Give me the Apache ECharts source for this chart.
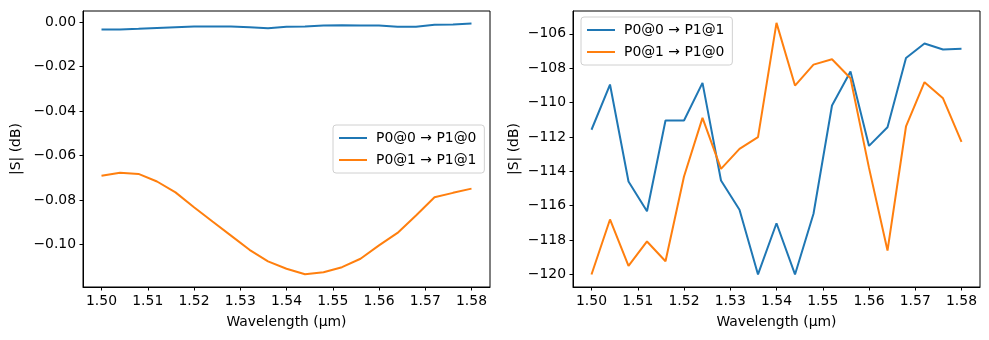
<!DOCTYPE html>
<html>
<head>
<meta charset="utf-8">
<script src="https://cdn.jsdelivr.net/npm/echarts@6/dist/echarts.min.js"></script>
<style>
html,body{margin:0;padding:0;background:#fff;}
#chart{width:989px;height:340px;}
</style>
</head>
<body>
<div id="chart"></div>
<script>
// Wavelengths (µm)
var wavelengths = [1.500,1.504,1.508,1.512,1.516,1.520,1.524,1.528,1.532,1.536,1.540,1.544,1.548,1.552,1.556,1.560,1.564,1.568,1.572,1.576,1.580];
var xTicks = [1.50,1.51,1.52,1.53,1.54,1.55,1.56,1.57,1.58];

// Left panel: transmission
var leftNames = ['P0@0 \u2192 P1@0', 'P0@1 \u2192 P1@1'];
var s00_10 = [-0.0034,-0.0034,-0.0031,-0.0027,-0.0024,-0.0021,-0.0021,-0.0021,-0.0024,-0.0028,-0.0022,-0.0021,-0.0016,-0.0015,-0.0016,-0.0016,-0.0022,-0.0022,-0.0013,-0.0012,-0.0007];
var s01_11 = [-0.0691,-0.0678,-0.0683,-0.0717,-0.0766,-0.0833,-0.0897,-0.0960,-0.1024,-0.1076,-0.1109,-0.1134,-0.1125,-0.1102,-0.1064,-0.1004,-0.0948,-0.0870,-0.0788,-0.0768,-0.0749];
var leftYTicks = [0.00,-0.02,-0.04,-0.06,-0.08,-0.10];

// Right panel: crosstalk
var rightNames = ['P0@0 \u2192 P1@1', 'P0@1 \u2192 P1@0'];
var s00_11 = [-111.58,-108.95,-114.59,-116.32,-111.04,-111.04,-108.85,-114.53,-116.24,-120.0,-117.02,-120.0,-116.47,-110.17,-108.19,-112.52,-111.43,-107.40,-106.56,-106.91,-106.87];
var s01_10 = [-120.0,-116.80,-119.50,-118.08,-119.23,-114.30,-110.89,-113.86,-112.69,-112.01,-105.36,-109.01,-107.79,-107.48,-108.58,-113.80,-118.61,-111.39,-108.81,-109.75,-112.28];
var rightYTicks = [-120,-118,-116,-114,-112,-110,-108,-106];

var xName = 'Wavelength (\u00b5m)';
var yName = '|S| (dB)';

function pairs(xs, ys){ return xs.map(function(x,i){ return [x, ys[i]]; }); }

var FONT = 'DejaVu Sans';
var FS = 13.9;

function xAxisCfg(gi){
  return {
    type:'value', gridIndex:gi, min:1.496, max:1.584,
    name:xName, nameLocation:'middle', nameGap:28,
    nameTextStyle:{fontFamily:FONT,fontSize:FS,color:'#000'},
    axisLine:{show:true,onZero:false,lineStyle:{color:'#000',width:1}},
    axisTick:{show:true,inside:false,length:3.5,lineStyle:{color:'#000'},customValues:xTicks},
    axisLabel:{show:true,margin:7,fontFamily:FONT,fontSize:FS,color:'#000',customValues:xTicks,
      formatter:function(v){return v.toFixed(2);}},
    splitLine:{show:false}
  };
}
function yAxisCfg(gi, min, max, ticks, dec, gap){
  return {
    type:'value', gridIndex:gi, min:min, max:max,
    name:yName, nameLocation:'middle', nameGap:gap,
    nameTextStyle:{fontFamily:FONT,fontSize:FS,color:'#000'},
    axisLine:{show:true,onZero:false,lineStyle:{color:'#000',width:1}},
    axisTick:{show:true,inside:false,length:3.5,lineStyle:{color:'#000'},customValues:ticks},
    axisLabel:{show:true,margin:7,fontFamily:FONT,fontSize:FS,color:'#000',customValues:ticks,
      formatter:function(v){ var s=Math.abs(v).toFixed(dec); return (v<-1e-9?'\u2212':'')+s; }},
    splitLine:{show:false}
  };
}
function lineSeries(name, xi, yi, data, color){
  return {
    type:'line', name:name, xAxisIndex:xi, yAxisIndex:yi,
    data:pairs(wavelengths, data), showSymbol:false, symbol:'none',
    lineStyle:{color:color,width:2}, itemStyle:{color:color},
    animation:false, silent:true
  };
}
function legendCfg(names, left, top){
  return {
    data:names, left:left, top:top, orient:'vertical',
    itemWidth:28, itemHeight:2, itemGap:8, icon:'rect',
    padding:[6,8,6,6],
    backgroundColor:'rgba(255,255,255,0.8)', borderColor:'#d0d0d0', borderWidth:1, borderRadius:3,
    textStyle:{fontFamily:FONT,fontSize:FS,color:'#000',padding:[0,0,0,4]},
    selectedMode:false
  };
}

var chart = echarts.init(document.getElementById('chart'), null, {renderer:'canvas'});
chart.setOption({
  backgroundColor:'#fff',
  animation:false,
  grid:[
    {left:83, top:11, width:407, height:276, show:true, borderColor:'#000', borderWidth:1, backgroundColor:'transparent'},
    {left:573, top:11, width:407, height:276, show:true, borderColor:'#000', borderWidth:1, backgroundColor:'transparent'}
  ],
  xAxis:[xAxisCfg(0), xAxisCfg(1)],
  yAxis:[
    yAxisCfg(0, -0.1191, 0.0049, leftYTicks, 2, 60),
    yAxisCfg(1, -120.73, -104.67, rightYTicks, 0, 52)
  ],
  legend:[
    legendCfg(leftNames, 333, 125),
    legendCfg(rightNames, 581, 17)
  ],
  series:[
    lineSeries(leftNames[0],0,0,s00_10,'#1f77b4'),
    lineSeries(leftNames[1],0,0,s01_11,'#ff7f0e'),
    lineSeries(rightNames[0],1,1,s00_11,'#1f77b4'),
    lineSeries(rightNames[1],1,1,s01_10,'#ff7f0e')
  ]
});
</script>
</body>
</html>
